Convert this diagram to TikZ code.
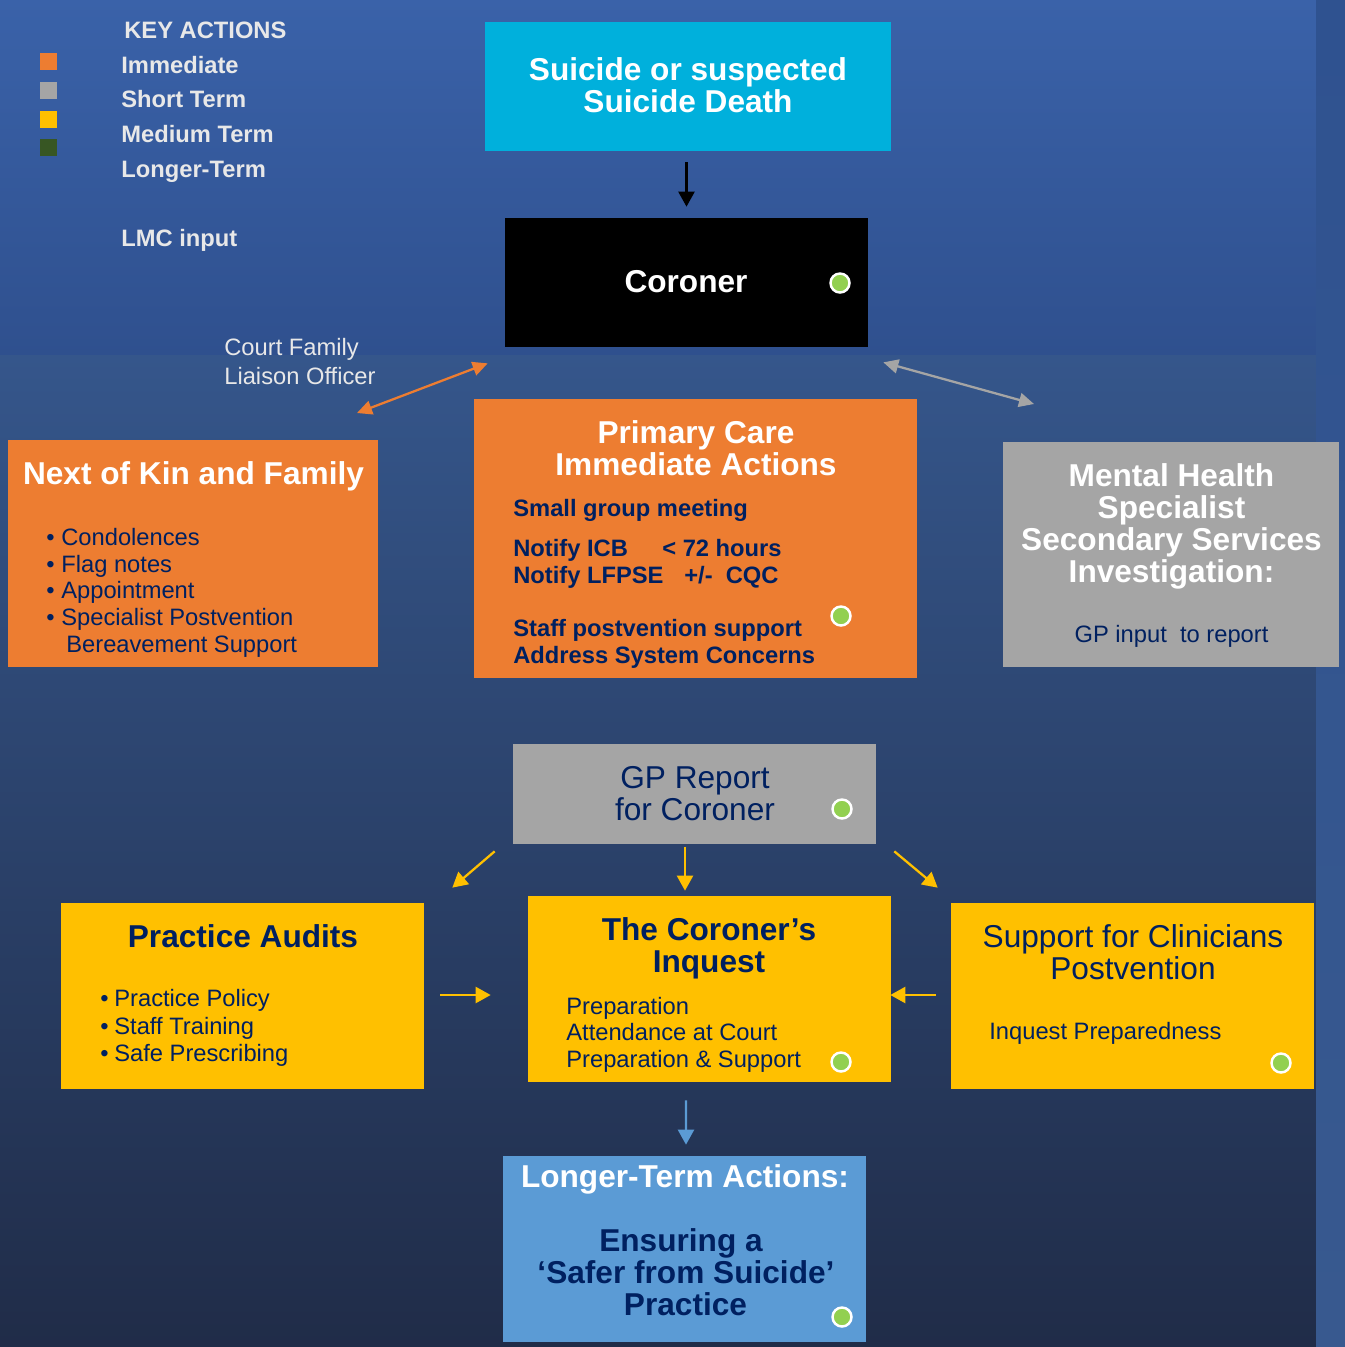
\documentclass[tikz,border=0pt]{standalone}
\usepackage{fontspec}
\setmainfont{Liberation Sans}
\usetikzlibrary{arrows.meta,calc}

\definecolor{cyanbox}{HTML}{00B0DC}
\definecolor{orangebox}{HTML}{ED7D31}
\definecolor{greybox}{HTML}{A5A5A5}
\definecolor{yellowbox}{HTML}{FFC000}
\definecolor{bluebox}{HTML}{5B9BD5}
\definecolor{navytext}{HTML}{002060}
\definecolor{keygreen}{HTML}{375623}
\definecolor{dotgreen}{HTML}{92D050}
\definecolor{keytext}{HTML}{E8E8E8}
\definecolor{bgtop}{HTML}{3A62A9}
\definecolor{bgband}{HTML}{2F508E}
\definecolor{bgmid}{HTML}{35568B}
\definecolor{bgmid2}{HTML}{2A4270}
\definecolor{bgbot}{HTML}{202C48}
\definecolor{stripa}{HTML}{2F5290}
\definecolor{stripb}{HTML}{38598F}

\tikzset{
  panel/.style 2 args={rectangle, inner sep=0pt, minimum width=#1, minimum height=#2},
  txt/.style={anchor=base west, inner sep=0pt},
  ctxt/.style={anchor=base, inner sep=0pt},
  headfont/.style={font=\fontsize{18}{20}\selectfont\bfseries},
  headreg/.style={font=\fontsize{18}{20}\selectfont},
  bodybold/.style={font=\fontsize{13.5}{15}\selectfont\bfseries},
  bodyreg/.style={font=\fontsize{13.5}{15}\selectfont},
  gdot/.style={circle, fill=dotgreen, draw=white, line width=1.4pt, minimum size=0.38cm, inner sep=0pt},
  arr/.style={-{Triangle[length=0.3cm,width=0.32cm]}, line width=1.3pt},
  darr/.style={{Triangle[length=0.3cm,width=0.28cm]}-{Triangle[length=0.3cm,width=0.28cm]}, line width=1.3pt},
}

\begin{document}
\begin{tikzpicture}[x=0.02cm, y=-0.02cm]
  \useasboundingbox (0,0) rectangle (1345,1347);
  % background
  \shade[top color=bgtop, bottom color=bgband] (0,0) rectangle (1316,355);
  \shade[top color=bgmid, middle color=bgmid2, bottom color=bgbot] (0,355) rectangle (1316,1347);
  \shade[top color=stripa, bottom color=stripb] (1316,0) rectangle (1345,1347);

  % key
  \node[txt, bodybold, text=keytext] (keyhead) at (124,38.5) {KEY ACTIONS};
  \foreach \c/\y [count=\i] in {orangebox/53, greybox/82, yellowbox/111, keygreen/139}
    \node[fill=\c, minimum size=0.34cm, inner sep=0pt, anchor=north west] (key\i) at (40,\y) {};
  \foreach \t/\y [count=\i] in {Immediate/73, Short Term/107, Medium Term/142, Longer-Term/177, LMC input/246}
    \node[txt, bodybold, text=keytext] (keylab\i) at (121,\y) {\t};

  % top of the chain
  \node[panel={8.12cm}{2.58cm}, fill=cyanbox] (suicide) at (688,86.5) {};
  \node[ctxt, headfont, text=white] (suicide1) at (688,80) {Suicide or suspected};
  \node[ctxt, headfont, text=white] (suicide2) at (688,112) {Suicide Death};

  \node[panel={7.26cm}{2.58cm}, fill=black] (coroner) at (686.5,282.5) {};
  \node[ctxt, headfont, text=white] (coroner1) at (686,292) {Coroner};
  \node[gdot] (dotcor) at (840,283) {};

  \draw[arr, black, shorten <=0.22cm, shorten >=0.22cm] (coroner.north |- suicide.south) -- (coroner.north);

  % court family liaison
  \node[txt, bodyreg, text=keytext] (cflo1) at (224,355) {Court Family};
  \node[txt, bodyreg, text=keytext] (cflo2) at (224,384) {Liaison Officer};
  \coordinate (orA) at ($(coroner.south west)+(-17,16)$);
  \coordinate (orB) at (357,413);
  \draw[darr, orangebox] (orA) -- (orB);
  \coordinate (grA) at ($(coroner.south east)+(15,15)$);
  \coordinate (grB) at (1034,404);
  \draw[darr, greybox] (grA) -- (grB);

  % next of kin
  \node[panel={7.4cm}{4.54cm}, fill=orangebox] (nok) at (193,553.5) {};
  \node[ctxt, headfont, text=white] (nok0) at (193.5,484) {Next of Kin and Family};
  \foreach \t/\y [count=\i] in {Condolences/545.5, Flag notes/572.5, Appointment/598.5, Specialist Postvention/625.5} {
    \node[txt, bodyreg, text=navytext] (nokb\i) at (46,\y) {\textbullet};
    \node[txt, bodyreg, text=navytext] (nok\i) at (61,\y) {\t};
  }
  \node[txt, bodyreg, text=navytext] (nok5) at (66,652.5) {Bereavement Support};

  % primary care
  \node[panel={8.86cm}{5.58cm}, fill=orangebox] (primary) at (695.5,538.5) {};
  \node[ctxt, headfont, text=white] (primary1) at (696,443) {Primary Care};
  \node[ctxt, headfont, text=white] (primary2) at (696,475) {Immediate Actions};
  \node[txt, bodybold, text=navytext] (pc1) at (513,516.5) {Small group meeting};
  \node[txt, bodybold, text=navytext] (pc2) at (513,556.5) {Notify ICB};
  \node[txt, bodybold, text=navytext] (pc2b) at (662,556.5) {< 72 hours};
  \node[txt, bodybold, text=navytext] (pc3) at (513,583.5) {Notify LFPSE};
  \node[txt, bodybold, text=navytext] (pc3b) at (684,583.5) {+/-\ \ CQC};
  \node[txt, bodybold, text=navytext] (pc4) at (513,636.5) {Staff postvention support};
  \node[txt, bodybold, text=navytext] (pc5) at (513,663.5) {Address System Concerns};
  \node[gdot] (dotpc) at (841,616) {};

  % mental health
  \node[panel={6.72cm}{4.5cm}, fill=greybox] (mh) at (1171,554.5) {};
  \foreach \t/\y [count=\i] in {Mental Health/486, Specialist/518, Secondary Services/550, Investigation:/582}
    \node[ctxt, headfont, text=white] (mh\i) at (1171.5,\y) {\t};
  \node[ctxt, bodyreg, text=navytext] (mh5) at (1171.5,642.5) {GP input\ \ to report};

  % gp report
  \node[panel={7.26cm}{2.0cm}, fill=greybox] (gp) at (694.5,794) {};
  \node[ctxt, headreg, text=navytext] (gp1) at (695,788) {GP Report};
  \node[ctxt, headreg, text=navytext] (gp2) at (695,820) {for Coroner};
  \node[gdot] (dotgp) at (842,809) {};

  % practice audits
  \node[panel={7.26cm}{3.72cm}, fill=yellowbox] (pa) at (242.5,996) {};
  \node[ctxt, headfont, text=navytext] (pa0) at (243,947) {Practice Audits};
  \foreach \t/\y [count=\i] in {Practice Policy/1006.5, Staff Training/1034.5, Safe Prescribing/1061.5} {
    \node[txt, bodyreg, text=navytext] (pab\i) at (100,\y) {\textbullet};
    \node[txt, bodyreg, text=navytext] (pa\i) at (114,\y) {\t};
  }

  % inquest
  \node[panel={7.26cm}{3.72cm}, fill=yellowbox] (ci) at (709.5,989) {};
  \node[ctxt, headfont, text=navytext] (ci1) at (709,940) {The Coroner’s};
  \node[ctxt, headfont, text=navytext] (ci2) at (709,972) {Inquest};
  \foreach \t/\y [count=\i] in {Preparation/1014.5, Attendance at Court/1040.5, Preparation \& Support/1067.5}
    \node[txt, bodyreg, text=navytext] (cib\i) at (566,\y) {\t};
  \node[gdot] (dotci) at (841,1062) {};

  % support for clinicians
  \node[panel={7.26cm}{3.72cm}, fill=yellowbox] (sc) at (1132.5,996) {};
  \node[ctxt, headreg, text=navytext] (sc1) at (1133,947) {Support for Clinicians};
  \node[ctxt, headreg, text=navytext] (sc2) at (1133,979) {Postvention};
  \node[txt, bodyreg, text=navytext] (sc3) at (989,1039.5) {Inquest Preparedness};
  \node[gdot] (dotsc) at (1281,1063) {};

  % longer term
  \node[panel={7.26cm}{3.72cm}, fill=bluebox] (lt) at (684.5,1249) {};
  \node[ctxt, headfont, text=white] (lt0) at (685,1187) {Longer-Term Actions:};
  \node[ctxt, headfont, text=navytext] (lt1) at (681,1251) {Ensuring a};
  \node[ctxt, headfont, text=navytext] (lt2) at (686,1283) {‘Safer from Suicide’};
  \node[ctxt, headfont, text=navytext] (lt3) at (685.5,1315) {Practice};
  \node[gdot] (dotlt) at (842,1317) {};

  % medium term arrows
  \draw[arr, yellowbox] ($(gp.south west)+(-18,7)$) -- ($(pa.north east)+(28,-15)$);
  \draw[arr, yellowbox] ($(ci.north)+(-24.5,-49)$) -- ($(ci.north)+(-24.5,-5)$);
  \draw[arr, yellowbox] ($(gp.south east)+(18,7)$) -- ($(sc.north west)+(-13,-15)$);
  \draw[arr, yellowbox] ($(pa.east)+(16,-1)$) -- ($(ci.west)+(-37,6)$);
  \draw[arr, yellowbox] ($(sc.west)+(-15,-1)$) -- ($(ci.east)+(-1,6)$);
  \draw[arr, bluebox] ($(ci.south)+(-23.5,18)$) -- ($(lt.north)+(1.5,-11)$);
\end{tikzpicture}
\end{document}
